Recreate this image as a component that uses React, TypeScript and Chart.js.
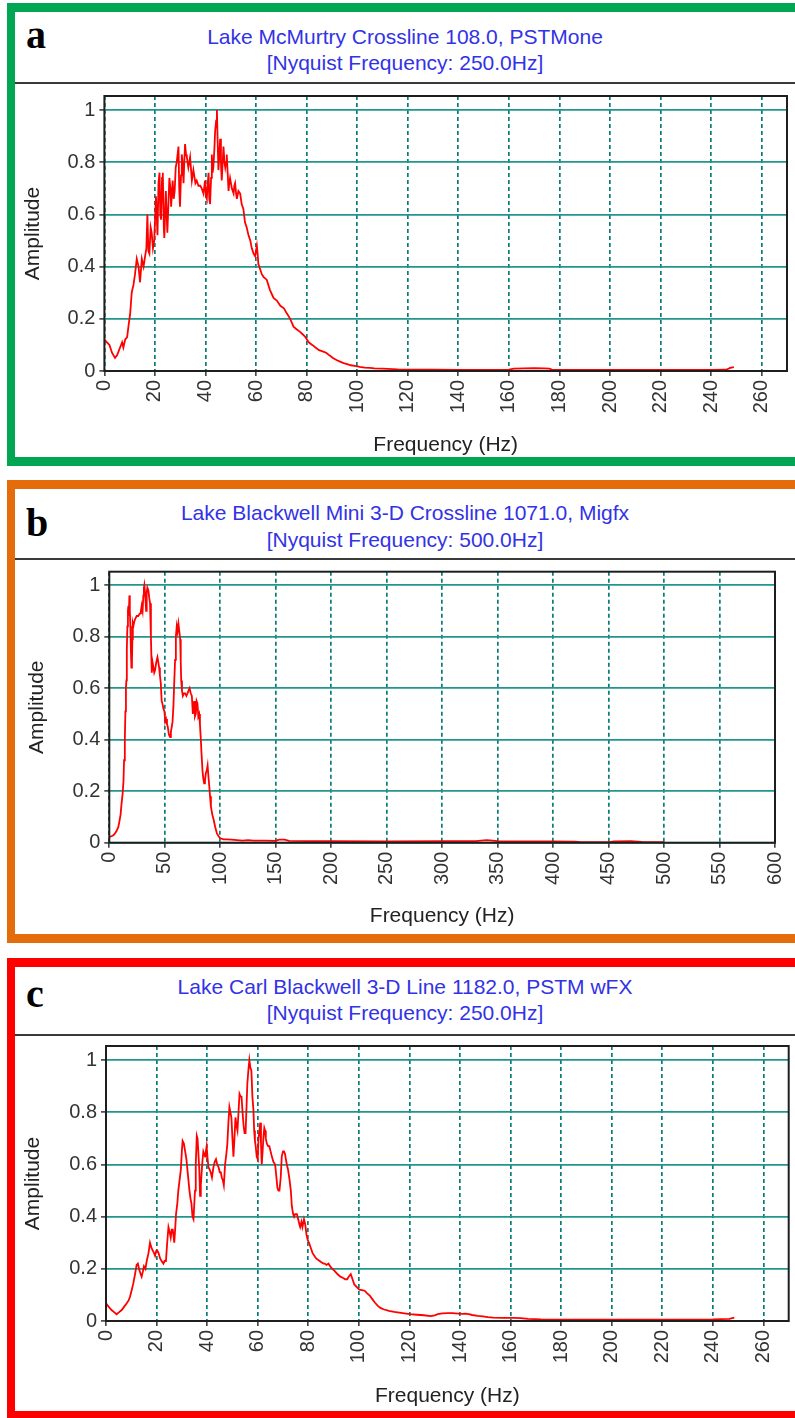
import React, { useEffect, useRef } from "react";
import { Chart, registerables } from "chart.js";

Chart.register(...registerables);

const SANS = "'Liberation Sans', Arial, Helvetica, sans-serif";
const SERIF = "'Liberation Serif', 'Times New Roman', serif";

// ---------------- Data: panel a (Lake McMurtry) ----------------
const freqA = [
  0, 1, 2, 3, 4.2, 5, 6.2, 7, 7.5, 8.2,
  9, 9.5, 10.2, 10.8, 11.5, 12.1, 12.8, 13.5, 14.1, 14.8,
  15.5, 16.1, 16.6, 17, 17.4, 17.8, 18.3, 18.7, 19.2, 19.7,
  20.4, 21, 21.4, 21.8, 22.1, 22.4, 22.8, 23.1, 23.5, 23.7,
  24.3, 24.9, 25.4, 25.7, 26.1, 26.4, 27, 27.4, 27.8, 28.2,
  28.6, 29.3, 29.6, 29.9, 30.3, 30.6, 31, 31.3, 31.6, 31.9,
  32.3, 32.6, 33.2, 33.9, 34.6, 35.2, 36, 36.5, 37.2, 37.9,
  38.5, 39.2, 39.8, 40.2, 40.5, 40.9, 41.2, 41.5, 41.8, 42.2,
  42.5, 42.8, 43.1, 43.5, 43.8, 44.2, 44.5, 44.8, 45.1, 45.5,
  45.8, 46.1, 46.4, 46.8, 47.1, 47.5, 47.8, 48.1, 48.4, 48.8,
  49.1, 49.4, 49.7, 50.4, 51.1, 51.4, 51.7, 52.1, 52.4, 53,
  53.7, 54.3, 55, 55.6, 56.3, 57, 57.7, 58.3, 59, 59.6,
  60.3, 60.6, 60.9, 61.6, 62.3, 63, 64.2, 65.5, 66.9, 68.2,
  69.6, 71, 72.2, 73.5, 74.8, 76, 77.4, 78.5, 79.5, 80.8,
  82.2, 83.5, 84.9, 86.3, 87.7, 89, 90.4, 91.8, 93.2, 94.6,
  96, 97.5, 99, 101, 103, 105, 106.8, 110, 112, 116,
  120, 130, 140, 150, 160, 162, 166, 170, 174, 176,
  177, 190, 200, 220, 240, 246, 247.5, 249,
];
const ampA = [
  0.12, 0.11, 0.10, 0.07, 0.05, 0.06, 0.09, 0.11, 0.09, 0.12,
  0.13, 0.17, 0.22, 0.30, 0.33, 0.37, 0.43, 0.40, 0.34, 0.43,
  0.40, 0.44, 0.47, 0.60, 0.46, 0.45, 0.55, 0.53, 0.47, 0.50,
  0.67, 0.52, 0.72, 0.76, 0.60, 0.58, 0.74, 0.76, 0.55, 0.51,
  0.69, 0.53, 0.66, 0.74, 0.70, 0.63, 0.73, 0.66, 0.69, 0.78,
  0.80, 0.86, 0.70, 0.63, 0.75, 0.83, 0.79, 0.72, 0.80, 0.87,
  0.83, 0.82, 0.78, 0.82, 0.73, 0.77, 0.72, 0.73, 0.71, 0.71,
  0.70, 0.68, 0.73, 0.67, 0.66, 0.72, 0.76, 0.66, 0.64, 0.74,
  0.83, 0.76, 0.78, 0.85, 0.92, 0.96, 1.0, 0.88, 0.77, 0.84,
  0.89, 0.80, 0.73, 0.80, 0.86, 0.80, 0.78, 0.80, 0.83, 0.75,
  0.69, 0.72, 0.74, 0.70, 0.68, 0.71, 0.72, 0.68, 0.66, 0.69,
  0.68, 0.64, 0.62, 0.57, 0.55, 0.52, 0.50, 0.47, 0.45, 0.44,
  0.48, 0.45, 0.41, 0.39, 0.37, 0.36, 0.35, 0.31, 0.28, 0.27,
  0.25, 0.24, 0.22, 0.20, 0.17, 0.16, 0.15, 0.14, 0.13, 0.11,
  0.10, 0.09, 0.08, 0.075, 0.07, 0.06, 0.05, 0.042, 0.036, 0.03,
  0.026, 0.022, 0.02, 0.016, 0.013, 0.012, 0.01, 0.009, 0.008, 0.006,
  0.005, 0.005, 0.004, 0.004, 0.005, 0.009, 0.010, 0.011, 0.010, 0.009,
  0.005, 0.004, 0.004, 0.004, 0.004, 0.005, 0.012, 0.015,
];

// ---------------- Data: panel b (Lake Blackwell Mini 3-D) ----------------
const freqB = [
  0, 2, 4, 5.1, 6.5, 8.1, 9, 10.2, 11, 12,
  12.8, 13.3, 14, 14.5, 15, 15.4, 15.8, 16.3, 16.8, 17.2,
  17.6, 18.1, 18.5, 19, 19.5, 19.9, 20.4, 20.8, 21.2, 21.7,
  22.6, 23.5, 24.7, 26, 27.7, 28.5, 29.2, 30, 30.7, 31.2,
  31.6, 32.2, 32.8, 33.2, 33.7, 34.3, 35.2, 36, 36.7, 37.5,
  38.3, 39, 39.8, 40.5, 41.3, 42.3, 43.4, 44.2, 44.9, 45.6,
  46.4, 47.2, 47.9, 48.8, 49.7, 50.4, 51.2, 52, 52.7, 53.7,
  54.8, 55.5, 56.3, 57, 57.8, 58.5, 59.3, 60, 60.8, 61.5,
  62.3, 63.1, 63.9, 64.4, 64.8, 65.5, 66.3, 67.3, 68.4, 69.5,
  70.5, 71.4, 72.4, 73.4, 74.4, 75.3, 75.9, 76.5, 77.2, 78,
  78.7, 79.5, 80.2, 81, 81.7, 82.5, 83.2, 84, 84.7, 85.5,
  86.2, 87, 87.8, 88.6, 89.3, 90.1, 90.8, 91.6, 92.8, 94,
  95.5, 97, 98.5, 100, 103, 106, 110, 115, 120, 125,
  130, 140, 150, 153, 158, 162, 180, 200, 250, 300,
  330, 340, 343, 350, 400, 420, 425, 450, 455, 470,
  480, 490, 500,
];
const ampB = [
  0.023, 0.025, 0.03, 0.036, 0.045, 0.06, 0.08, 0.11, 0.15, 0.19,
  0.24, 0.32, 0.40, 0.51, 0.60, 0.63, 0.75, 0.84, 0.90, 0.92,
  0.88, 0.96, 0.90, 0.84, 0.74, 0.68, 0.70, 0.79, 0.85, 0.84,
  0.86, 0.87, 0.88, 0.88, 0.89, 0.90, 0.92, 0.90, 0.96, 0.99,
  1.0, 0.97, 0.93, 0.90, 0.97, 0.99, 0.98, 0.95, 0.93, 0.80,
  0.66, 0.70, 0.68, 0.66, 0.67, 0.70, 0.72, 0.70, 0.68, 0.65,
  0.62, 0.55, 0.54, 0.52, 0.51, 0.47, 0.48, 0.46, 0.45, 0.42,
  0.41, 0.43, 0.45, 0.47, 0.53, 0.62, 0.71, 0.80, 0.84, 0.82,
  0.85, 0.82, 0.79, 0.70, 0.63, 0.59, 0.57, 0.58, 0.58, 0.57,
  0.58, 0.59, 0.60, 0.58, 0.57, 0.50, 0.53, 0.55, 0.49, 0.50,
  0.55, 0.54, 0.49, 0.50, 0.46, 0.40, 0.34, 0.28, 0.25, 0.23,
  0.24, 0.27, 0.28, 0.30, 0.26, 0.22, 0.18, 0.14, 0.11, 0.09,
  0.06, 0.036, 0.025, 0.017, 0.013, 0.013, 0.012, 0.010, 0.008, 0.010,
  0.008, 0.008, 0.007, 0.012, 0.012, 0.007, 0.006, 0.006, 0.005, 0.006,
  0.006, 0.010, 0.009, 0.006, 0.005, 0.004, 0.002, 0.002, 0.005, 0.006,
  0.003, 0.002, 0.002,
];

// ---------------- Data: panel c (Lake Carl Blackwell 3-D) ----------------
const freqC = [
  0, 1, 2.2, 3.2, 4.2, 5.2, 6.2, 7.2, 8.2, 9,
  9.5, 10.2, 10.8, 11.5, 12.1, 12.6, 13.2, 13.7, 14.1, 14.6,
  15, 15.6, 16.1, 16.8, 17.4, 18, 18.5, 19, 19.4, 19.9,
  20.3, 20.8, 21.4, 22, 22.7, 23.2, 23.7, 24.2, 24.7, 25.2,
  25.6, 26, 26.4, 27, 27.4, 27.7, 28.2, 28.6, 29.1, 29.6,
  30, 30.3, 30.8, 31.3, 31.8, 32.2, 32.6, 33, 33.4, 33.8,
  34.2, 34.6, 35.2, 35.5, 35.9, 36.2, 36.5, 36.9, 37.2, 37.5,
  37.9, 38.2, 38.5, 38.9, 39.2, 39.5, 39.8, 40.2, 40.5, 41,
  41.4, 41.9, 42.5, 43, 43.5, 44, 44.5, 45, 45.4, 45.8,
  46.2, 46.6, 47.1, 47.6, 48, 48.4, 48.8, 49.2, 49.6, 50,
  50.4, 50.8, 51.2, 51.6, 52, 52.4, 52.8, 53.2, 53.6, 54,
  54.4, 54.8, 55.2, 55.5, 55.9, 56.3, 56.7, 57.1, 57.5, 57.9,
  58.3, 58.6, 58.9, 59.2, 59.6, 60, 60.3, 60.7, 61, 61.3,
  61.6, 62, 62.3, 62.6, 62.9, 63.2, 63.6, 64.1, 64.6, 65.1,
  65.6, 66.2, 66.9, 67.4, 67.8, 68.2, 68.6, 69.1, 69.5, 70,
  70.4, 70.8, 71.5, 72, 72.6, 73.1, 73.5, 74, 74.4, 74.8,
  75.5, 76, 76.5, 76.8, 77.3, 77.7, 78.3, 78.8, 79.3, 79.8,
  80.3, 81, 81.7, 82.4, 83.1, 83.8, 84.5, 85.2, 86, 86.5,
  87.2, 88, 88.6, 89.5, 90.6, 91.5, 92.7, 93.8, 94.6, 95.4,
  96, 96.8, 97.5, 98.2, 99.2, 100.2, 101.2, 102.3, 103.3, 104.4,
  105.4, 106.4, 107.5, 108.5, 110, 111.9, 114, 116, 118, 120.2,
  123, 125.7, 128.4, 130, 131.2, 133, 135.3, 137, 139.4, 141,
  142.1, 143.5, 144.8, 147, 149, 151, 153.1, 157, 161.4, 164,
  166.9, 172, 180, 200, 220, 240, 246.5, 248.5,
];
const ampC = [
  0.068, 0.055, 0.042, 0.034, 0.026, 0.034, 0.042, 0.055, 0.068, 0.08,
  0.093, 0.12, 0.144, 0.18, 0.215, 0.22, 0.195, 0.18, 0.17, 0.19,
  0.21, 0.20, 0.23, 0.26, 0.30, 0.28, 0.27, 0.26, 0.25, 0.27,
  0.27, 0.26, 0.24, 0.23, 0.22, 0.23, 0.23, 0.30, 0.36, 0.34,
  0.32, 0.35, 0.35, 0.30, 0.36, 0.41, 0.45, 0.50, 0.54, 0.58,
  0.65, 0.69, 0.68, 0.65, 0.62, 0.58, 0.54, 0.50, 0.47, 0.45,
  0.40, 0.39, 0.50, 0.60, 0.71, 0.70, 0.65, 0.58, 0.48, 0.52,
  0.58, 0.62, 0.65, 0.64, 0.63, 0.65, 0.67, 0.62, 0.59, 0.58,
  0.57, 0.55, 0.59, 0.61, 0.62, 0.60, 0.59, 0.57, 0.57, 0.55,
  0.54, 0.52, 0.60, 0.64, 0.68, 0.76, 0.82, 0.80, 0.78, 0.70,
  0.63, 0.70, 0.78, 0.75, 0.73, 0.80, 0.87, 0.86, 0.86, 0.80,
  0.75, 0.72, 0.72, 0.80, 0.91, 0.96, 1.0, 0.97, 0.96, 0.86,
  0.81, 0.73, 0.69, 0.67, 0.63, 0.62, 0.70, 0.73, 0.76, 0.68,
  0.60, 0.66, 0.71, 0.74, 0.73, 0.70, 0.68, 0.67, 0.67, 0.65,
  0.63, 0.61, 0.60, 0.55, 0.51, 0.50, 0.50, 0.55, 0.63, 0.65,
  0.65, 0.64, 0.60, 0.58, 0.54, 0.50, 0.44, 0.41, 0.40, 0.41,
  0.41, 0.39, 0.37, 0.36, 0.38, 0.36, 0.39, 0.37, 0.33, 0.31,
  0.30, 0.28, 0.26, 0.25, 0.24, 0.235, 0.23, 0.225, 0.22, 0.22,
  0.215, 0.22, 0.21, 0.20, 0.19, 0.18, 0.17, 0.165, 0.16, 0.16,
  0.17, 0.18, 0.16, 0.14, 0.13, 0.12, 0.118, 0.116, 0.106, 0.096,
  0.083, 0.07, 0.058, 0.05, 0.044, 0.039, 0.035, 0.032, 0.029, 0.026,
  0.024, 0.022, 0.019, 0.022, 0.026, 0.029, 0.03, 0.03, 0.028, 0.027,
  0.028, 0.026, 0.023, 0.02, 0.018, 0.015, 0.013, 0.012, 0.012, 0.011,
  0.008, 0.006, 0.005, 0.005, 0.005, 0.006, 0.008, 0.013,
];

// ---------------- Ticks & labels ----------------
const xTicks250 = [0, 20, 40, 60, 80, 100, 120, 140, 160, 180, 200, 220, 240, 260];
const xTicks500 = [0, 50, 100, 150, 200, 250, 300, 350, 400, 450, 500, 550, 600];
const yTicks = [0, 0.2, 0.4, 0.6, 0.8, 1];
const yTickLabels = ["0", "0.2", "0.4", "0.6", "0.8", "1"];
const xAxisTitle = "Frequency (Hz)";
const yAxisTitle = "Amplitude";

const titlesA = ["Lake McMurtry Crossline 108.0, PSTMone", "[Nyquist Frequency: 250.0Hz]"];
const titlesB = ["Lake Blackwell Mini 3-D Crossline 1071.0, Migfx", "[Nyquist Frequency: 500.0Hz]"];
const titlesC = ["Lake Carl Blackwell 3-D Line 1182.0, PSTM wFX", "[Nyquist Frequency: 250.0Hz]"];

// ---------------- Layout (positions / styles) ----------------
type Layout = {
  letter: string;
  color: string;
  top: number;
  bottom: number;
  titles: string[];
  freq: number[];
  amp: number[];
  xTicks: number[];
  xMax: number;
  yMax: number;
  t1Base: number;
  t2Base: number;
  letterBase: number;
  sepY: number;
  canvasTop: number;
  canvasH: number;
  chartLeft: number;
  chartTop: number;
  chartBottom: number;
  padRight: number;
  ampX: number;
  freqY: number;
};

const PANELS: Layout[] = [
  {
    letter: "a", color: "#00A651", top: 3, bottom: 466, titles: titlesA,
    freq: freqA, amp: ampA, xTicks: xTicks250, xMax: 270, yMax: 1.054,
    t1Base: 44, t2Base: 70.5, letterBase: 48, sepY: 82,
    canvasTop: 85, canvasH: 372, chartLeft: 89.4, chartTop: 11, chartBottom: 286,
    padRight: 8, ampX: 18, freqY: 360,
  },
  {
    letter: "b", color: "#E46C0A", top: 480, bottom: 943, titles: titlesB,
    freq: freqB, amp: ampB, xTicks: xTicks500, xMax: 600, yMax: 1.052,
    t1Base: 520, t2Base: 547, letterBase: 536, sepY: 558,
    canvasTop: 561, canvasH: 373, chartLeft: 94.3, chartTop: 10.7, chartBottom: 281.7,
    padRight: 20, ampX: 22, freqY: 355,
  },
  {
    letter: "c", color: "#FF0000", top: 958, bottom: 1420, titles: titlesC,
    freq: freqC, amp: ampC, xTicks: xTicks250, xMax: 270, yMax: 1.054,
    t1Base: 994, t2Base: 1020.5, letterBase: 1007, sepY: 1034,
    canvasTop: 1037, canvasH: 374, chartLeft: 91, chartTop: 9, chartBottom: 284,
    padRight: 6.3, ampX: 18.3, freqY: 359,
  },
];

const BORDER = 9;
const TITLE_SIZE = 21;
const TITLE_LH = 24;
const LETTER_SIZE = 40;
const TICK_SIZE = 20;
const AXIS_TITLE_SIZE = 21;

const boxPlugin = {
  id: "plotBox",
  afterDraw(chart: any) {
    const { ctx, chartArea } = chart;
    const { left, top, right, bottom } = chartArea;
    ctx.save();
    ctx.strokeStyle = "#1e1e1e";
    ctx.lineWidth = 2;
    ctx.strokeRect(left, top, right - left, bottom - top);
    ctx.restore();
  },
};

function SpectrumChart({ p }: { p: Layout }) {
  const ref = useRef<HTMLCanvasElement | null>(null);
  useEffect(() => {
    if (!ref.current) return;
    const lh = AXIS_TITLE_SIZE * 1.2;
    const xAxisHeight = p.canvasH - p.chartBottom;
    const chart = new Chart(ref.current, {
      type: "line",
      data: {
        datasets: [
          {
            data: p.freq.map((f, i) => ({ x: f, y: p.amp[i] })),
            borderColor: "#FF0000",
            borderWidth: 1.8,
            pointRadius: 0,
            tension: 0,
            fill: false,
          },
        ],
      },
      options: {
        animation: false,
        responsive: false,
        maintainAspectRatio: false,
        devicePixelRatio: 1,
        events: [],
        layout: { padding: { left: 0, top: p.chartTop, right: p.padRight, bottom: 0 } },
        plugins: {
          legend: { display: false },
          title: { display: false },
          tooltip: { enabled: false },
        },
        scales: {
          x: {
            type: "linear",
            position: "bottom",
            min: 0,
            max: p.xMax,
            afterBuildTicks: (s: any) => {
              s.ticks = p.xTicks.map((v) => ({ value: v }));
            },
            afterFit: (s: any) => {
              s.height = xAxisHeight;
              s.paddingLeft = 0;
              s.paddingRight = 0;
            },
            ticks: {
              autoSkip: false,
              minRotation: 90,
              maxRotation: 90,
              padding: 4,
              color: "#333333",
              font: { family: SANS, size: TICK_SIZE },
              callback: (v: any) => String(v),
            },
            grid: {
              color: "#0B7C78",
              lineWidth: 1.7,
              tickLength: 5,
              tickColor: "#333333",
              tickWidth: 1.5,
            },
            border: { display: false, dash: [4, 3] },
            title: {
              display: true,
              text: xAxisTitle,
              color: "#222222",
              font: { family: SANS, size: AXIS_TITLE_SIZE },
              padding: { top: 0, bottom: p.canvasH - lh / 2 - p.freqY },
            },
          },
          y: {
            type: "linear",
            position: "left",
            min: 0,
            max: p.yMax,
            afterBuildTicks: (s: any) => {
              s.ticks = yTicks.map((v) => ({ value: v }));
            },
            afterFit: (s: any) => {
              s.width = p.chartLeft;
              s.paddingTop = 0;
              s.paddingBottom = 0;
            },
            ticks: {
              autoSkip: false,
              padding: 4,
              color: "#333333",
              font: { family: SANS, size: TICK_SIZE },
              callback: (v: any) => {
                const i = yTicks.findIndex((t) => Math.abs(t - v) < 1e-6);
                return i >= 0 ? yTickLabels[i] : "";
              },
            },
            grid: {
              color: "#21968D",
              lineWidth: 1.8,
              tickLength: 5,
              tickColor: "#333333",
              tickWidth: 1.5,
            },
            border: { display: false },
            title: {
              display: true,
              text: yAxisTitle,
              color: "#222222",
              font: { family: SANS, size: AXIS_TITLE_SIZE },
              padding: { top: p.ampX - lh / 2, bottom: 0 },
            },
          },
        },
      } as any,
      plugins: [boxPlugin],
    });
    return () => chart.destroy();
  }, [p]);
  return (
    <canvas
      ref={ref}
      width={780}
      height={p.canvasH}
      style={{ position: "absolute", left: 15, top: p.canvasTop, width: 780, height: p.canvasH }}
    />
  );
}

function titleTop(baseline: number) {
  // Liberation Sans ascent 0.905, descent 0.212
  return baseline - (TITLE_LH - 1.117 * TITLE_SIZE) / 2 - 0.905 * TITLE_SIZE;
}
function letterTop(baseline: number) {
  // Liberation Serif ascent 0.891, descent 0.216
  return baseline - (LETTER_SIZE - 1.107 * LETTER_SIZE) / 2 - 0.891 * LETTER_SIZE;
}

function Panel({ p }: { p: Layout }) {
  const titleStyle = (base: number): React.CSSProperties => ({
    position: "absolute",
    left: 15,
    width: 780,
    top: titleTop(base),
    textAlign: "center",
    fontFamily: SANS,
    fontSize: TITLE_SIZE,
    lineHeight: TITLE_LH + "px",
    color: "#3232E6",
    whiteSpace: "nowrap",
  });
  return (
    <>
      <div
        style={{
          position: "absolute",
          left: 7,
          top: p.top,
          width: 795 - 7,
          height: p.bottom - p.top,
          boxSizing: "border-box",
          borderTop: `${BORDER}px solid ${p.color}`,
          borderBottom: `${BORDER}px solid ${p.color}`,
          borderLeft: `8px solid ${p.color}`,
          background: "#ffffff",
        }}
      />
      <div
        style={{
          position: "absolute",
          left: 15,
          top: p.sepY,
          width: 780,
          height: 2,
          background: "#3a3a3a",
        }}
      />
      <div
        style={{
          position: "absolute",
          left: 26,
          top: letterTop(p.letterBase),
          fontFamily: SERIF,
          fontWeight: "bold",
          fontSize: LETTER_SIZE,
          lineHeight: LETTER_SIZE + "px",
          color: "#000000",
        }}
      >
        {p.letter}
      </div>
      <div style={titleStyle(p.t1Base)}>{p.titles[0]}</div>
      <div style={titleStyle(p.t2Base)}>{p.titles[1]}</div>
      <SpectrumChart p={p} />
    </>
  );
}

export default function App() {
  return (
    <div
      style={{
        position: "absolute",
        left: 0,
        top: 0,
        width: 795,
        height: 1418,
        overflow: "hidden",
        background: "#ffffff",
      }}
    >
      {PANELS.map((p) => (
        <Panel key={p.letter} p={p} />
      ))}
    </div>
  );
}
